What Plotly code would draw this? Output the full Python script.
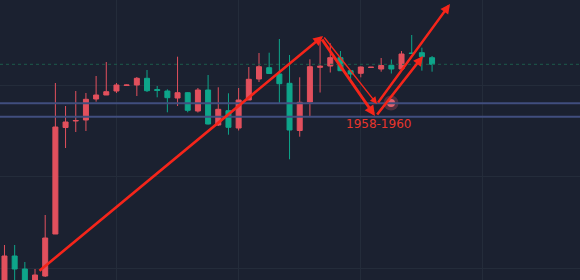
import plotly.graph_objects as go

# ---- data (candle index, OHLC prices) ----
idx = list(range(43))
opens = [110, 144, 131, 118, 124, 166, 272.5, 279, 280, 301, 305, 309, 314.5, 315, 321.7,
         310.5, 309, 302, 307.3, 289, 310, 275, 289.3, 272, 300, 321, 332.3, 326, 316.7, 269.5,
         298, 332.7, 334, 342.3, 329.3, 326.7, 332.5, 331, 334.7, 331, 347, 347.3, 342.3]
highs = [155, 155, 138, 131, 185, 317, 294, 309, 307, 324, 338, 317, 315.5, 323, 330,
         314, 310.7, 343.3, 308, 312, 325, 312.7, 306.7, 312, 333, 347, 347.3, 361, 345, 322.7,
         340.7, 359, 356.7, 349, 329.5, 333.5, 333, 342, 340.5, 349, 365, 352.3, 344]
lows = [105, 115, 110, 117, 123, 166, 252, 268, 269, 298.3, 305, 307, 314, 304, 308,
        302.7, 287.7, 294, 287.7, 287.5, 275.5, 274, 265.3, 269.5, 300, 318, 326, 296.7, 240.7, 263.3,
        283, 307.5, 327.5, 329, 321, 322.7, 332.3, 328.3, 326.5, 331, 346, 329.3, 328.3]
closes = [144, 131, 115, 125, 162, 273, 278, 279.5, 300.7, 305, 308.3, 315, 315, 321.7, 309.3,
          309.5, 302.3, 307.3, 289.7, 310, 276, 290.7, 272.7, 300, 320.7, 333.3, 326.5, 316.3, 270, 297.7,
          333.3, 333.7, 342.3, 329.3, 326, 333, 332.8, 334.5, 331, 346, 346.5, 343.3, 335.7]

# reference levels
level_lines = [296.7, 283.3]
last_price = closes[-1]

# hand-drawn arrows: (tail index, tail price, head index, head price, width)
arrow_tail_x = [3.29, 31.29, 31.09, 36.59, 36.49]
arrow_tail_y = [128, 364, 362, 296, 284]
arrow_head_x = [31.29, 36.59, 36.39, 43.76, 41.11]
arrow_head_y = [364, 296, 284, 396, 344]
arrow_widths = [2.6, 1.4, 3.0, 2.4, 2.6]
arrow_sizes = [0.75, 1.0, 0.7, 0.8, 0.75]

label_text = "1958-1960"
label_x, label_y = 36.74, 276
marker_x, marker_y = 37.97, 297

RED = "#e2505d"
GREEN = "#0ea58a"
BG = "#1b2130"
GRID = "#242c3a"
ARROW = "#f5251a"

fig = go.Figure()
fig.add_trace(go.Candlestick(
    x=idx, open=opens, high=highs, low=lows, close=closes,
    increasing=dict(line=dict(color=RED, width=1), fillcolor=RED),
    decreasing=dict(line=dict(color=GREEN, width=1), fillcolor=GREEN),
    whiskerwidth=0, showlegend=False, hoverinfo="skip",
))

for lv in level_lines:
    fig.add_hline(y=lv, line=dict(color="#414e7e", width=2))
fig.add_hline(y=last_price, line=dict(color="#1d5c4c", width=1, dash="dot"))

fig.add_trace(go.Scatter(x=[marker_x], y=[marker_y], mode="markers",
                         marker=dict(size=15, color="rgba(224,90,106,0.28)", line=dict(width=0)),
                         showlegend=False, hoverinfo="skip"))
fig.add_trace(go.Scatter(x=[marker_x], y=[marker_y], mode="markers",
                         marker=dict(size=8, color="#e0606e", line=dict(width=0)),
                         showlegend=False, hoverinfo="skip"))

for tx, ty, hx, hy, w, s in zip(arrow_tail_x, arrow_tail_y, arrow_head_x, arrow_head_y,
                                arrow_widths, arrow_sizes):
    fig.add_annotation(x=hx, y=hy, ax=tx, ay=ty, xref="x", yref="y", axref="x", ayref="y",
                       showarrow=True, arrowhead=2, arrowsize=s, arrowwidth=w,
                       arrowcolor=ARROW, standoff=0, text="")

fig.add_annotation(x=label_x, y=label_y, text=label_text, showarrow=False,
                   font=dict(family="DejaVu Sans", size=12, color="#e8352c"))

fig.update_layout(
    width=580, height=280, margin=dict(l=0, r=0, t=0, b=0),
    paper_bgcolor=BG, plot_bgcolor=BG,
    xaxis=dict(range=[-0.44, 56.53], showticklabels=False, zeroline=False,
               showgrid=True, gridcolor=GRID, gridwidth=1, tick0=11, dtick=12,
               rangeslider=dict(visible=False), fixedrange=True),
    yaxis=dict(range=[120, 400], showticklabels=False, zeroline=False,
               showgrid=True, gridcolor=GRID, gridwidth=1, tick0=132, dtick=91.5,
               fixedrange=True),
)

fig.write_html("out.html", config={"displayModeBar": False},
               post_script="document.body.style.margin='0';document.body.style.background='%s';" % BG)
